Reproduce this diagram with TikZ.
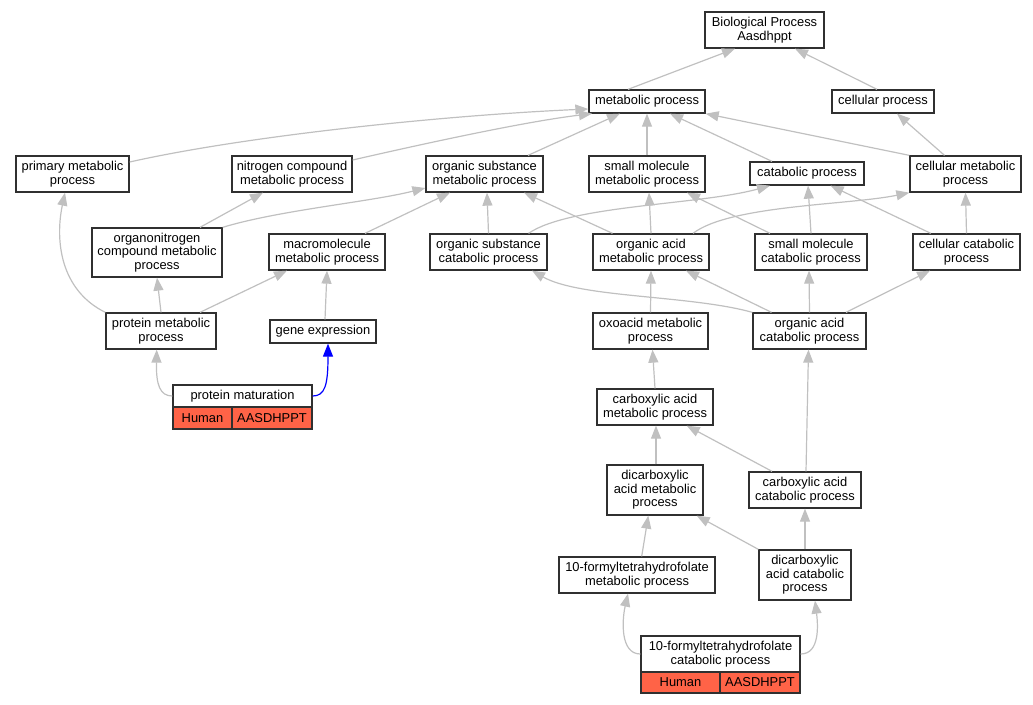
\documentclass[tikz,border=0pt]{standalone}
\usepackage{fontspec}
\setmainfont{Liberation Sans}
\usetikzlibrary{arrows.meta,calc}
\definecolor{edgegray}{HTML}{C0C0C0}
\definecolor{tomatofill}{HTML}{FF6347}
\definecolor{boxline}{HTML}{303030}
\begin{document}
\begin{tikzpicture}[x=1pt,y=-1pt,
  box/.style={draw=boxline, line width=1.3pt, fill=white, inner sep=0pt, align=center,
    font=\fontsize{12.9pt}{13.6pt}\selectfont},
  cell/.style={box, fill=tomatofill},
  isa/.style={draw=edgegray, line width=1.2pt, -{Triangle[length=13pt,width=10pt]}},
  blueisa/.style={isa, draw=blue}]
\useasboundingbox (0,0) rectangle (1033,704);
% nodes
\node[box, minimum width=119pt, minimum height=36pt] (bp) at (764.5,30) {Biological Process\\Aasdhppt};
\node[box, minimum width=116pt, minimum height=23pt] (metab) at (647,101.5) {metabolic process};
\node[box, minimum width=102pt, minimum height=23pt] (cellproc) at (883,101.5) {cellular process};
\node[box, minimum width=113pt, minimum height=36pt] (primary) at (72.5,174) {primary metabolic\\process};
\node[box, minimum width=120pt, minimum height=36pt] (nitro) at (292,174) {nitrogen compound\\metabolic process};
\node[box, minimum width=117pt, minimum height=36pt] (orgsubmet) at (484.5,174) {organic substance\\metabolic process};
\node[box, minimum width=116pt, minimum height=36pt] (smallmet) at (647,174) {small molecule\\metabolic process};
\node[box, minimum width=114pt, minimum height=23pt] (catab) at (807,173.5) {catabolic process};
\node[box, minimum width=111pt, minimum height=36pt] (cellmet) at (965.5,174) {cellular metabolic\\process};
\node[box, minimum width=130pt, minimum height=49pt] (orgnitro) at (157,252.5) {organonitrogen\\compound metabolic\\process};
\node[box, minimum width=116pt, minimum height=36pt] (macro) at (327,252) {macromolecule\\metabolic process};
\node[box, minimum width=117pt, minimum height=36pt] (orgsubcat) at (488.5,252) {organic substance\\catabolic process};
\node[box, minimum width=116pt, minimum height=36pt] (orgacidmet) at (651,252) {organic acid\\metabolic process};
\node[box, minimum width=112pt, minimum height=36pt] (smallcat) at (811,252) {small molecule\\catabolic process};
\node[box, minimum width=107pt, minimum height=36pt] (cellcat) at (966.5,252) {cellular catabolic\\process};
\node[box, minimum width=110pt, minimum height=36pt] (protmet) at (161,331) {protein metabolic\\process};
\node[box, minimum width=106pt, minimum height=23pt] (geneexp) at (323,331.5) {gene expression};
\node[box, minimum width=115pt, minimum height=36pt] (oxo) at (650.5,331) {oxoacid metabolic\\process};
\node[box, minimum width=113pt, minimum height=36pt] (orgacidcat) at (809.5,331) {organic acid\\catabolic process};
\node[box, minimum width=139pt, minimum height=22pt] (protmat) at (242.5,396) {protein maturation};
\node[cell, minimum width=59pt, minimum height=22pt] (protmathuman) at (202.5,418) {Human};
\node[cell, minimum width=80pt, minimum height=22pt] (protmatgene) at (272,418) {AASDHPPT};
\node[box, minimum width=116pt, minimum height=36pt] (carbmet) at (655,407) {carboxylic acid\\metabolic process};
\node[box, minimum width=96pt, minimum height=50pt] (dicarbmet) at (655,490) {dicarboxylic\\acid metabolic\\process};
\node[box, minimum width=112pt, minimum height=36pt] (carbcat) at (805,490) {carboxylic acid\\catabolic process};
\node[box, minimum width=156pt, minimum height=36pt] (formmet) at (637,575) {10-formyltetrahydrofolate\\metabolic process};
\node[box, minimum width=92pt, minimum height=50pt] (dicarbcat) at (805,575) {dicarboxylic\\acid catabolic\\process};
\node[box, minimum width=159pt, minimum height=36pt] (formcat) at (720.5,654) {10-formyltetrahydrofolate\\catabolic process};
\node[cell, minimum width=79pt, minimum height=21pt] (formcathuman) at (680.5,682.5) {Human};
\node[cell, minimum width=80pt, minimum height=21pt] (formcatgene) at (760,682.5) {AASDHPPT};
% edges
\draw[isa] ($(metab.north)+(-19,0)$) -- ($(bp.south)+(-29.5,0)$);
\draw[isa] ($(cellproc.north)+(-6,0)$) -- ($(bp.south)+(30.5,0)$);
\draw[isa] ($(primary.east)+(0,-12)$) .. controls (250,135) and (450,115) .. ($(metab.west)+(0,7.5)$);
\draw[isa] ($(nitro.east)+(0,-14)$) .. controls (440,140) and (530,121) .. ($(metab.south)+(-55,0)$);
\draw[isa] ($(orgsubmet.north)+(43.5,0)$) -- ($(metab.south)+(-27,0)$);
\draw[isa] (smallmet.north) -- (metab.south);
\draw[isa] ($(catab.north)+(-35,0)$) -- ($(metab.south)+(23,0)$);
\draw[isa] (cellmet.north west) -- (metab.south east);
\draw[isa] ($(cellmet.north)+(-21,0)$) -- ($(cellproc.south)+(14,0)$);
\draw[isa] ($(orgnitro.north)+(43,0)$) -- ($(nitro.south)+(-29,0)$);
\draw[isa] (orgnitro.north east) .. controls (280,210) and (370,202) .. ($(orgsubmet.west)+(0,14)$);
\draw[isa] ($(macro.north)+(38,0)$) -- ($(orgsubmet.south)+(-34.5,0)$);
\draw[isa] (orgsubcat.north) -- ($(orgsubmet.south)+(2.5,0)$);
\draw[isa] ($(orgacidmet.north)+(-38.5,0)$) -- ($(orgsubmet.south)+(39.5,0)$);
\draw[isa] ($(orgsubcat.north)+(40,0)$) .. controls (570,205) and (700,205) .. ($(catab.south)+(-37,0)$);
\draw[isa] (orgacidmet.north) -- ($(smallmet.south)+(2,0)$);
\draw[isa] ($(smallcat.north)+(-41,0)$) -- ($(smallmet.south)+(40,0)$);
\draw[isa] ($(orgacidmet.north)+(42,0)$) .. controls (730,205) and (850,205) .. (cellmet.south west);
\draw[isa] (smallcat.north) -- ($(catab.south)+(1,0)$);
\draw[isa] ($(cellcat.north)+(-35.7,0)$) -- ($(catab.south)+(23.6,0)$);
\draw[isa] (cellcat.north) -- (cellmet.south);
\draw[isa] (protmet.north west) .. controls (60,290) and (55,240) .. ($(primary.south)+(-7.5,0)$);
\draw[isa] (protmet.north) -- ($(orgnitro.south)+(0,0)$);
\draw[isa] ($(protmet.north)+(39,0)$) -- ($(macro.south)+(-40,0)$);
\draw[isa] ($(geneexp.north)+(2,0)$) -- (macro.south);
\draw[isa] (protmat.west) .. controls (160,396) and (156,385) .. ($(protmet.south)+(-4.3,0)$);
\draw[blueisa] (protmat.east) .. controls (325,396) and (328,385) .. ($(geneexp.south)+(5,0)$);
\draw[isa] (orgacidcat.north west) .. controls (690,295) and (580,298) .. ($(orgsubcat.south)+(43.5,0)$);
\draw[isa] ($(orgacidcat.north)+(-38,0)$) -- ($(orgacidmet.south)+(35,0)$);
\draw[isa] (orgacidcat.north) -- ($(smallcat.south)+(-2,0)$);
\draw[isa] ($(orgacidcat.north)+(36.5,0)$) -- ($(cellcat.south)+(-36.5,0)$);
\draw[isa] (oxo.north) -- (orgacidmet.south);
\draw[isa] (carbmet.north) -- ($(oxo.south)+(2,0)$);
\draw[isa] ($(dicarbmet.north)+(1,0)$) -- ($(carbmet.south)+(1,0)$);
\draw[isa] ($(carbcat.north)+(-33,0)$) -- ($(carbmet.south)+(31.7,0)$);
\draw[isa] ($(carbcat.north)+(1,0)$) -- ($(orgacidcat.south)+(-1,0)$);
\draw[isa] ($(formmet.north)+(4.7,0)$) -- ($(dicarbmet.south)+(-6.7,0)$);
\draw[isa] (dicarbcat.north west) -- ($(dicarbmet.south)+(41.7,0)$);
\draw[isa] (dicarbcat.north) -- (carbcat.south);
\draw[isa] (formcat.west) .. controls (620,654) and (622,620) .. ($(formmet.south)+(-9,0)$);
\draw[isa] (formcat.east) .. controls (820,654) and (818,625) .. ($(dicarbcat.south)+(10,0)$);
\end{tikzpicture}
\end{document}
